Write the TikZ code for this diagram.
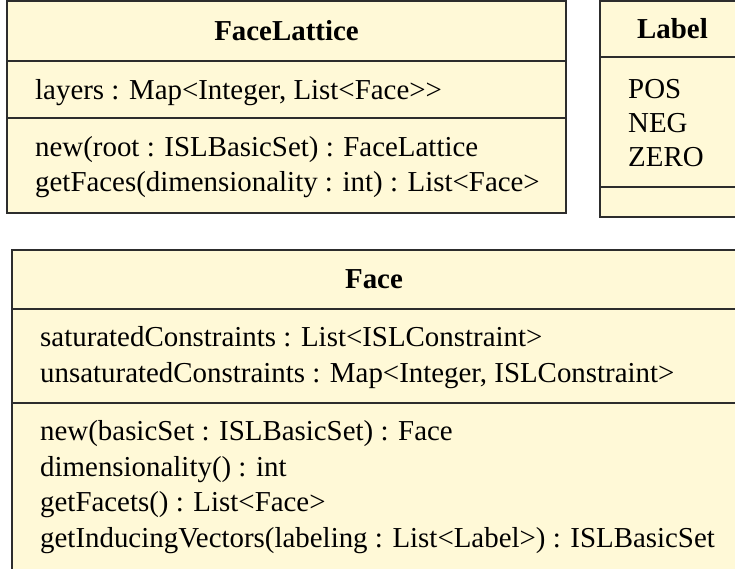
\documentclass[tikz,border=0pt]{standalone}
\usepackage{fontspec}
\setmainfont{Liberation Serif}
\usetikzlibrary{positioning}
\definecolor{classfill}{RGB}{255,249,215}
\definecolor{classline}{RGB}{45,45,45}
\newcommand{\umlfont}{\rmfamily\fontsize{28.9}{35.5}\selectfont}
\tikzset{
	compartment/.style= {
		rectangle,
		draw=classline,
		fill=classfill,
		line width=1.5pt,
		inner sep=0,
		outer sep=0,
		anchor=north west
	},
	classname/.style= {
		compartment,
		font=\umlfont\bfseries
	},
	member/.style={anchor=base west, inner sep=0, font=\umlfont},
}

\begin{document}
\begin{tikzpicture}[x=1pt, y=-1pt]
		\useasboundingbox (0,0) rectangle (735,569);
		\clip (0,0) rectangle (735,569);

		% FaceLattice
		\node (lattice) [classname, minimum width=559pt, minimum height=60pt] at (7,1) {FaceLattice};
		\node (latticeAttr) [compartment, minimum width=559pt, minimum height=57pt, below=0pt of lattice] {};
		\node (latticeOps) [compartment, minimum width=559pt, minimum height=95pt, below=0pt of latticeAttr] {};
		\foreach \txt [count=\i] in {{layers : Map<Integer, List<Face>{}>}}
			\node (latticeAttr\i) [member] at ([shift={(28,38.5+35.5*(\i-1))}]latticeAttr.north west) {\txt};
		\foreach \txt [count=\i] in {{new(root : ISLBasicSet) : FaceLattice}, {getFaces(dimensionality : int) : List<Face>}}
			\node (latticeOps\i) [member] at ([shift={(28,38.5+35.5*(\i-1))}]latticeOps.north west) {\txt};

		% Label
		\node (label) [classname, minimum width=145pt, minimum height=56pt] at (600,1) {Label};
		\node (labelAttr) [compartment, minimum width=145pt, minimum height=130pt, below=0pt of label] {};
		\node (labelOps) [compartment, minimum width=145pt, minimum height=30pt, below=0pt of labelAttr] {};
		\foreach \txt [count=\i] in {POS, NEG, ZERO}
			\node (labelAttr\i) [member] at ([shift={(28,41.5+34*(\i-1))}]labelAttr.north west) {\txt};

		% Face
		\node (face) [classname, minimum width=724pt, minimum height=59pt] at (12,250) {Face};
		\node (faceAttr) [compartment, minimum width=724pt, minimum height=94pt, below=0pt of face] {};
		\node (faceOps) [compartment, minimum width=724pt, minimum height=200pt, below=0pt of faceAttr] {};
		\foreach \txt [count=\i] in {{saturatedConstraints : List<ISLConstraint>}, {unsaturatedConstraints : Map<Integer, ISLConstraint>}}
			\node (faceAttr\i) [member] at ([shift={(28,37.5+35.5*(\i-1))}]faceAttr.north west) {\txt};
		\foreach \txt [count=\i] in {{new(basicSet : ISLBasicSet) : Face}, {dimensionality() : int}, {getFacets() : List<Face>}, {getInducingVectors(labeling : List<Label>) : ISLBasicSet}}
			\node (faceOps\i) [member] at ([shift={(28,37.5+35.7*(\i-1))}]faceOps.north west) {\txt};
	\end{tikzpicture}
\end{document}
